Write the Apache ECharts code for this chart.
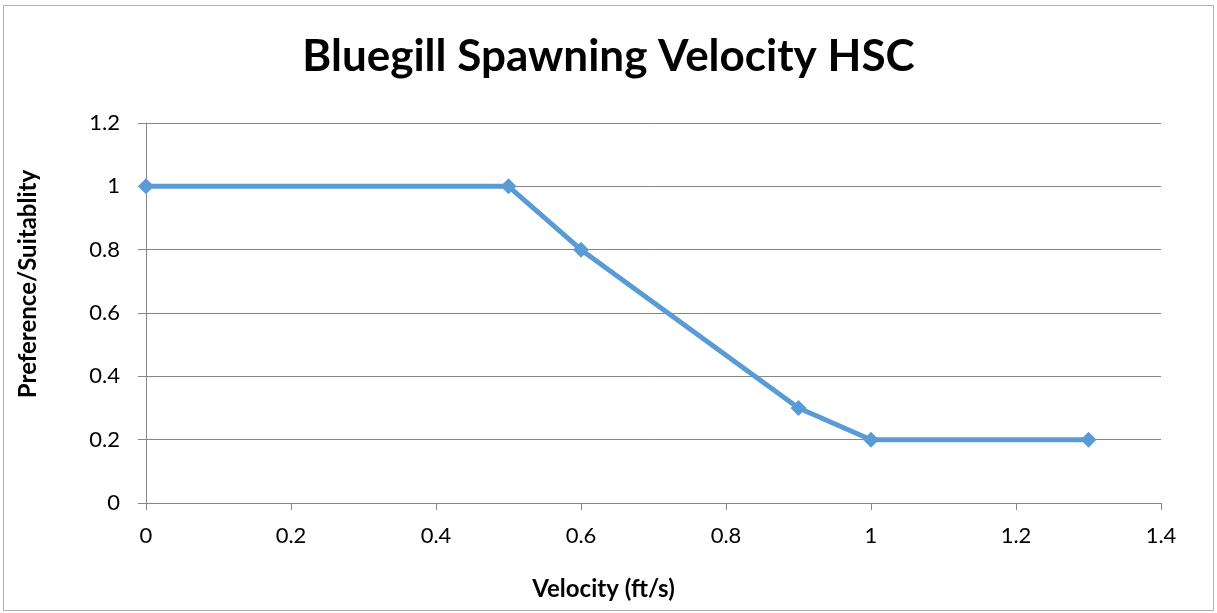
<!DOCTYPE html>
<html>
<head>
<meta charset="utf-8">
<script src="https://cdn.jsdelivr.net/npm/echarts@6/dist/echarts.min.js"></script>
<style>
  html, body { margin: 0; padding: 0; background: #fff; }
  #chart { width: 1217px; height: 613px; }
</style>
</head>
<body>
<div id="chart"></div>
<script>
// velocity (ft/s) vs preference
var velocity = [0, 0.5, 0.6, 0.9, 1, 1.3]
var suitability = [1, 1, 0.8, 0.3, 0.2, 0.2]

var chart = echarts.init(document.getElementById("chart"))
var font = "Lato, 'Open Sans', sans-serif"

var points = velocity.map(function (v, i) { return [v, suitability[i]] })

var option = {
  animation: false,
  backgroundColor: "#fff",
  title: {
    text: "Bluegill Spawning Velocity HSC",
    left: "center",
    top: 30,
    textStyle: { fontFamily: font, fontSize: 44, fontWeight: "bold", color: "#000" }
  },
  graphic: [{
    type: "rect",
    shape: { x: 3.5, y: 5.5, width: 1210, height: 605 },
    style: { fill: "none", stroke: "#b0b0b0", lineWidth: 1 },
    silent: true
  }],
  grid: { left: 146, right: 56, top: 123, bottom: 110 },
  xAxis: {
    type: "value",
    min: 0, max: 1.4, interval: 0.2,
    name: "Velocity (ft/s)",
    nameLocation: "middle",
    nameGap: 74,
    nameTextStyle: { fontFamily: font, fontSize: 24, fontWeight: "bold", color: "#000", padding: [0, 100, 0, 0] },
    axisLine: { show: true, lineStyle: { color: "#868686", width: 1 } },
    axisTick: { show: true, length: 7, lineStyle: { color: "#868686" } },
    axisLabel: { fontFamily: font, fontSize: 22, color: "#000", margin: 22 },
    splitLine: { show: false }
  },
  yAxis: {
    type: "value",
    min: 0, max: 1.2, interval: 0.2,
    name: "Preference/Suitablity",
    nameLocation: "middle",
    nameGap: 106,
    nameTextStyle: { fontFamily: font, fontSize: 24, fontWeight: "bold", color: "#000", padding: [0, 0, 0, 58] },
    axisLine: { show: true, lineStyle: { color: "#868686", width: 1 } },
    axisTick: { show: true, length: 8, lineStyle: { color: "#868686" } },
    axisLabel: { fontFamily: font, fontSize: 22, color: "#000", margin: 26 },
    splitLine: { show: true, lineStyle: { color: "#868686", width: 1 } }
  },
  series: [{
    type: "line",
    data: points,
    symbol: "diamond",
    symbolSize: 16,
    lineStyle: { color: "#5b9bd5", width: 5 },
    itemStyle: { color: "#5b9bd5" }
  }]
}

chart.setOption(option)
</script>
</body>
</html>
